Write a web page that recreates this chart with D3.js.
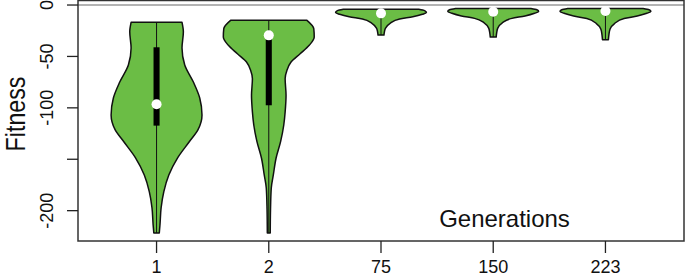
<!DOCTYPE html>
<html>
<head>
<meta charset="utf-8">
<script src="https://cdn.jsdelivr.net/npm/d3@7"></script>
<style>
  body { margin: 0; background: #fff; }
  text { font-family: "Liberation Sans", Arial, sans-serif; }
</style>
</head>
<body>
<div id="chart-container"></div>
<script>
/**************************************************
 * Data
 **************************************************/

const generations = ["1", "2", "75", "150", "223"];

// fitness levels at which the violin outline was read, top to bottom
const densityFitness = [
  [-16.8, -26, -41.8, -58.3, -74.9, -90.4, -107, -121.5, -133, -148.8, -165.3, -181.5, -197.4, -214, -221.7],
  [-14.9, -23, -31.1, -39.2, -47.4, -55.4, -63.5, -71.7, -87.8, -104, -116.7, -132.9, -149, -165.3, -178, -199, -221.7],
  [-4.2, -5.5, -7.3, -9, -11.4, -13.6, -17.8, -22.4, -26, -29.2],
  [-3.4, -4.6, -6.2, -8, -10.6, -13, -17.3, -22.5, -27, -31.2],
  [-3.4, -4.6, -6.2, -8, -10.6, -13.2, -18, -23.5, -29, -33.8]
];

// relative density (half width of the violin) at those levels
const densityValues = [
  [0.56, 0.59, 0.56, 0.62, 0.81, 0.95, 1.0, 0.91, 0.72, 0.46, 0.27, 0.16, 0.10, 0.075, 0.06],
  [0.84, 0.99, 1.0, 0.89, 0.69, 0.49, 0.40, 0.36, 0.38, 0.36, 0.33, 0.26, 0.16, 0.10, 0.055, 0.038, 0.032],
  [0.83, 0.96, 1.0, 0.91, 0.70, 0.41, 0.20, 0.10, 0.076, 0.065],
  [0.83, 0.96, 1.0, 0.91, 0.70, 0.41, 0.20, 0.10, 0.076, 0.065],
  [0.83, 0.96, 1.0, 0.91, 0.70, 0.41, 0.20, 0.10, 0.076, 0.065]
];

const q3Values     = [-41.1, -28, -6, -4.5, -4];
const medianValues = [-96.5, -29.5, -8.1, -6.5, -5.8];
const q1Values     = [-117.3, -97.5, -10, -8.5, -7.5];

const yTickValues = [0, -50, -100, -150, -200];
const yTickLabels = ["0", "-50", "-100", "", "-200"];

/**************************************************
 * Rendering
 **************************************************/

const W = 685, H = 277;
const svg = d3.select("#chart-container")
  .append("svg")
  .attr("width", W)
  .attr("height", H);

const x = d3.scaleLinear().domain([0.3, 5.7]).range([78, 684]);
const y = d3.scaleLinear().domain([4.4, -229.5]).range([0.5, 241]);

const halfWidth = 0.405;   // max violin half width, in x units
const boxHalf = 0.027;

// grey reference line at 0
svg.append("line")
  .attr("x1", x(0.3)).attr("x2", x(5.7))
  .attr("y1", y(0)).attr("y2", y(0))
  .attr("stroke", "#9a9a9a")
  .attr("stroke-width", 1.6);

generations.forEach((g, i) => {
  const pos = i + 1;
  const pts = densityFitness[i].map((f, j) => ({ f: f, d: densityValues[i][j] }));

  const area = d3.area()
    .y(d => y(d.f))
    .x0(d => x(pos - halfWidth * d.d))
    .x1(d => x(pos + halfWidth * d.d))
    .curve(d3.curveMonotoneY);

  svg.append("path")
    .attr("d", area(pts))
    .attr("fill", "#6bbd45")
    .attr("stroke", "#111")
    .attr("stroke-width", 1.5)
    .attr("stroke-linejoin", "round");

  const fs = densityFitness[i];
  // whisker
  svg.append("line")
    .attr("x1", x(pos)).attr("x2", x(pos))
    .attr("y1", y(fs[0])).attr("y2", y(fs[fs.length - 1]))
    .attr("stroke", "#111")
    .attr("stroke-width", 1);

  // box
  svg.append("rect")
    .attr("x", x(pos - boxHalf))
    .attr("width", x(pos + boxHalf) - x(pos - boxHalf))
    .attr("y", y(q3Values[i]))
    .attr("height", y(q1Values[i]) - y(q3Values[i]))
    .attr("fill", "#000");

  // median
  svg.append("circle")
    .attr("cx", x(pos))
    .attr("cy", y(medianValues[i]))
    .attr("r", 5)
    .attr("fill", "#fff");
});

// frame
svg.append("rect")
  .attr("x", x(0.3)).attr("y", y(4.4))
  .attr("width", x(5.7) - x(0.3))
  .attr("height", y(-229.5) - y(4.4))
  .attr("fill", "none")
  .attr("stroke", "#333")
  .attr("stroke-width", 1.5);

// y axis
const yAxis = svg.append("g");
yTickValues.forEach((v, i) => {
  yAxis.append("line")
    .attr("x1", x(0.3) - 11).attr("x2", x(0.3))
    .attr("y1", y(v)).attr("y2", y(v))
    .attr("stroke", "#222").attr("stroke-width", 1.3);
  yAxis.append("text")
    .attr("transform", `translate(53,${y(v)}) rotate(-90)`)
    .attr("text-anchor", "middle")
    .attr("font-size", "18px")
    .attr("fill", "#111")
    .text(yTickLabels[i]);
});

// x axis
const xAxis = svg.append("g");
generations.forEach((g, i) => {
  const pos = i + 1;
  xAxis.append("line")
    .attr("x1", x(pos)).attr("x2", x(pos))
    .attr("y1", y(-229.5)).attr("y2", y(-229.5) + 12)
    .attr("stroke", "#222").attr("stroke-width", 1.3);
  xAxis.append("text")
    .attr("x", x(pos))
    .attr("y", 273)
    .attr("text-anchor", "middle")
    .attr("font-size", "18px")
    .attr("fill", "#111")
    .text(g);
});

// axis titles
svg.append("text")
  .attr("transform", "translate(24.5,114) rotate(-90) scale(0.86,1)")
  .attr("text-anchor", "middle")
  .attr("font-size", "27px")
  .attr("fill", "#111")
  .text("Fitness");

svg.append("text")
  .attr("x", 504.5)
  .attr("y", 227)
  .attr("text-anchor", "middle")
  .attr("font-size", "24px")
  .attr("fill", "#111")
  .text("Generations");
</script>
</body>
</html>
